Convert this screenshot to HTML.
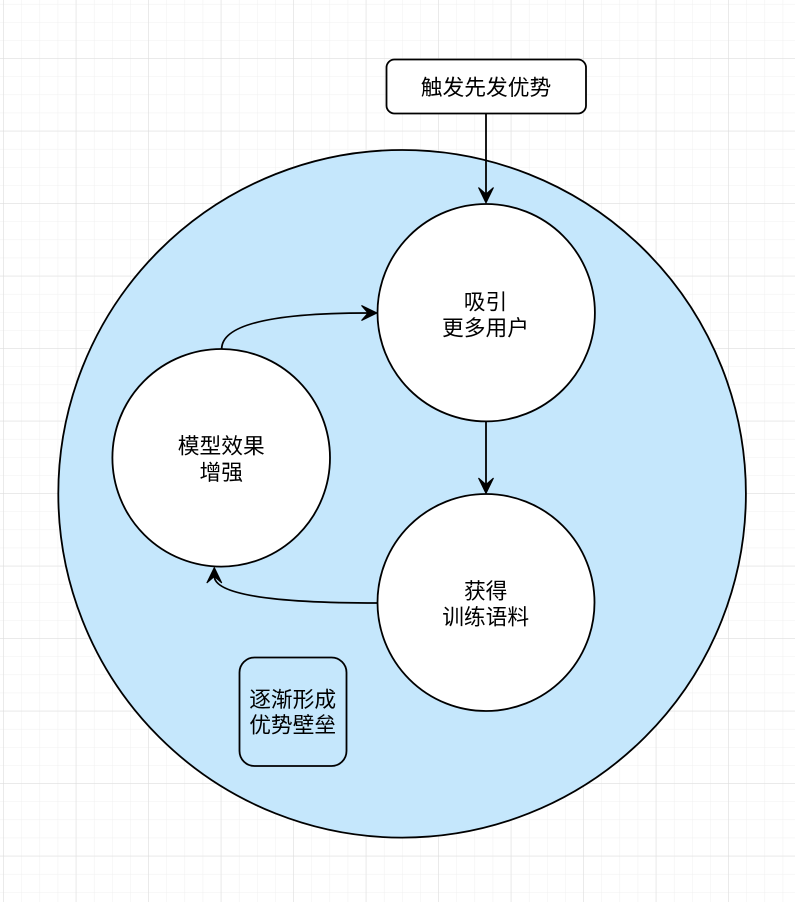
<!DOCTYPE html>
<html>
<head>
<meta charset="utf-8">
<style>
  html, body { margin: 0; padding: 0; background: #ffffff; }
  body { width: 795px; height: 902px; overflow: hidden; }
  svg { display: block; }
  text {
    font-family: "Liberation Sans", "Noto Sans CJK SC", "WenQuanYi Zen Hei", sans-serif;
    font-size: 21.75px;
    fill: #000000;
    text-anchor: middle;
  }
</style>
</head>
<body>
<svg width="795" height="902" viewBox="0 0 795 902" xmlns="http://www.w3.org/2000/svg">
  <defs>
    <pattern id="minor" x="3.3" y="58.3" width="18.125" height="18.125" patternUnits="userSpaceOnUse">
      <line x1="0" y1="0" x2="0" y2="18.125" stroke="#f0f0f0" stroke-width="1"/>
      <line x1="0" y1="0" x2="18.125" y2="0" stroke="#f0f0f0" stroke-width="1"/>
    </pattern>
    <pattern id="major" x="3.3" y="58.3" width="72.5" height="72.5" patternUnits="userSpaceOnUse">
      <line x1="0" y1="0" x2="0" y2="72.5" stroke="#dcdcdc" stroke-width="1"/>
      <line x1="0" y1="0" x2="72.5" y2="0" stroke="#dcdcdc" stroke-width="1"/>
    </pattern>
  </defs>

  <!-- grid background -->
  <rect x="0" y="0" width="795" height="902" fill="#ffffff"/>
  <rect x="0" y="0" width="795" height="902" fill="url(#minor)"/>
  <rect x="0" y="0" width="795" height="902" fill="url(#major)"/>

  <!-- big circle -->
  <circle cx="402.1" cy="493.8" r="343.8" fill="#c5e7fc" stroke="#000" stroke-width="1.8"/>

  <!-- top box -->
  <rect x="386.5" y="59.5" width="199.5" height="54" rx="8" ry="8" fill="#ffffff" stroke="#000" stroke-width="1.8"/>
  <text x="486" y="95">触发先发优势</text>

  <!-- arrow top box -> circle 1 -->
  <line x1="486" y1="113.5" x2="486" y2="195" stroke="#000" stroke-width="1.8"/>
  <polygon points="486,203 478.5,187.5 486,194 493.5,187.5" fill="#000" stroke="#000" stroke-width="1"/>

  <!-- circle 1 -->
  <circle cx="486.2" cy="312.7" r="108.7" fill="#ffffff" stroke="#000" stroke-width="1.8"/>
  <text x="485.5" y="309.5">吸引</text>
  <text x="485.5" y="335.5">更多用户</text>

  <!-- arrow circle1 -> circle3 -->
  <line x1="486" y1="421.5" x2="486" y2="485" stroke="#000" stroke-width="1.8"/>
  <polygon points="486,493.5 478.5,478 486,484.5 493.5,478" fill="#000" stroke="#000" stroke-width="1"/>

  <!-- circle 2 -->
  <circle cx="221.2" cy="457.8" r="108.8" fill="#ffffff" stroke="#000" stroke-width="1.8"/>
  <text x="221.3" y="453.3">模型效果</text>
  <text x="221.3" y="479.8">增强</text>

  <!-- curved arrow circle2 -> circle1 -->
  <path d="M221.7 349 Q221.7 313 368 313" fill="none" stroke="#000" stroke-width="1.8"/>
  <polygon points="377,313 361.5,305.5 368,313 361.5,320.5" fill="#000" stroke="#000" stroke-width="1"/>

  <!-- circle 3 -->
  <circle cx="486" cy="602.5" r="108.5" fill="#ffffff" stroke="#000" stroke-width="1.8"/>
  <text x="485.7" y="598.3">获得</text>
  <text x="485.7" y="624.5">训练语料</text>

  <!-- curved arrow circle3 -> circle2 -->
  <path d="M377.5 603 Q214.3 603 214.3 576" fill="none" stroke="#000" stroke-width="1.8"/>
  <polygon points="214.3,567.5 206.8,583 214.3,576.5 221.8,583" fill="#000" stroke="#000" stroke-width="1"/>

  <!-- bottom rounded box -->
  <rect x="239.5" y="657.5" width="107" height="108.5" rx="15" ry="15" fill="none" stroke="#000" stroke-width="1.8"/>
  <text x="292.7" y="707">逐渐形成</text>
  <text x="292.7" y="732.7">优势壁垒</text>
</svg>
</body>
</html>
